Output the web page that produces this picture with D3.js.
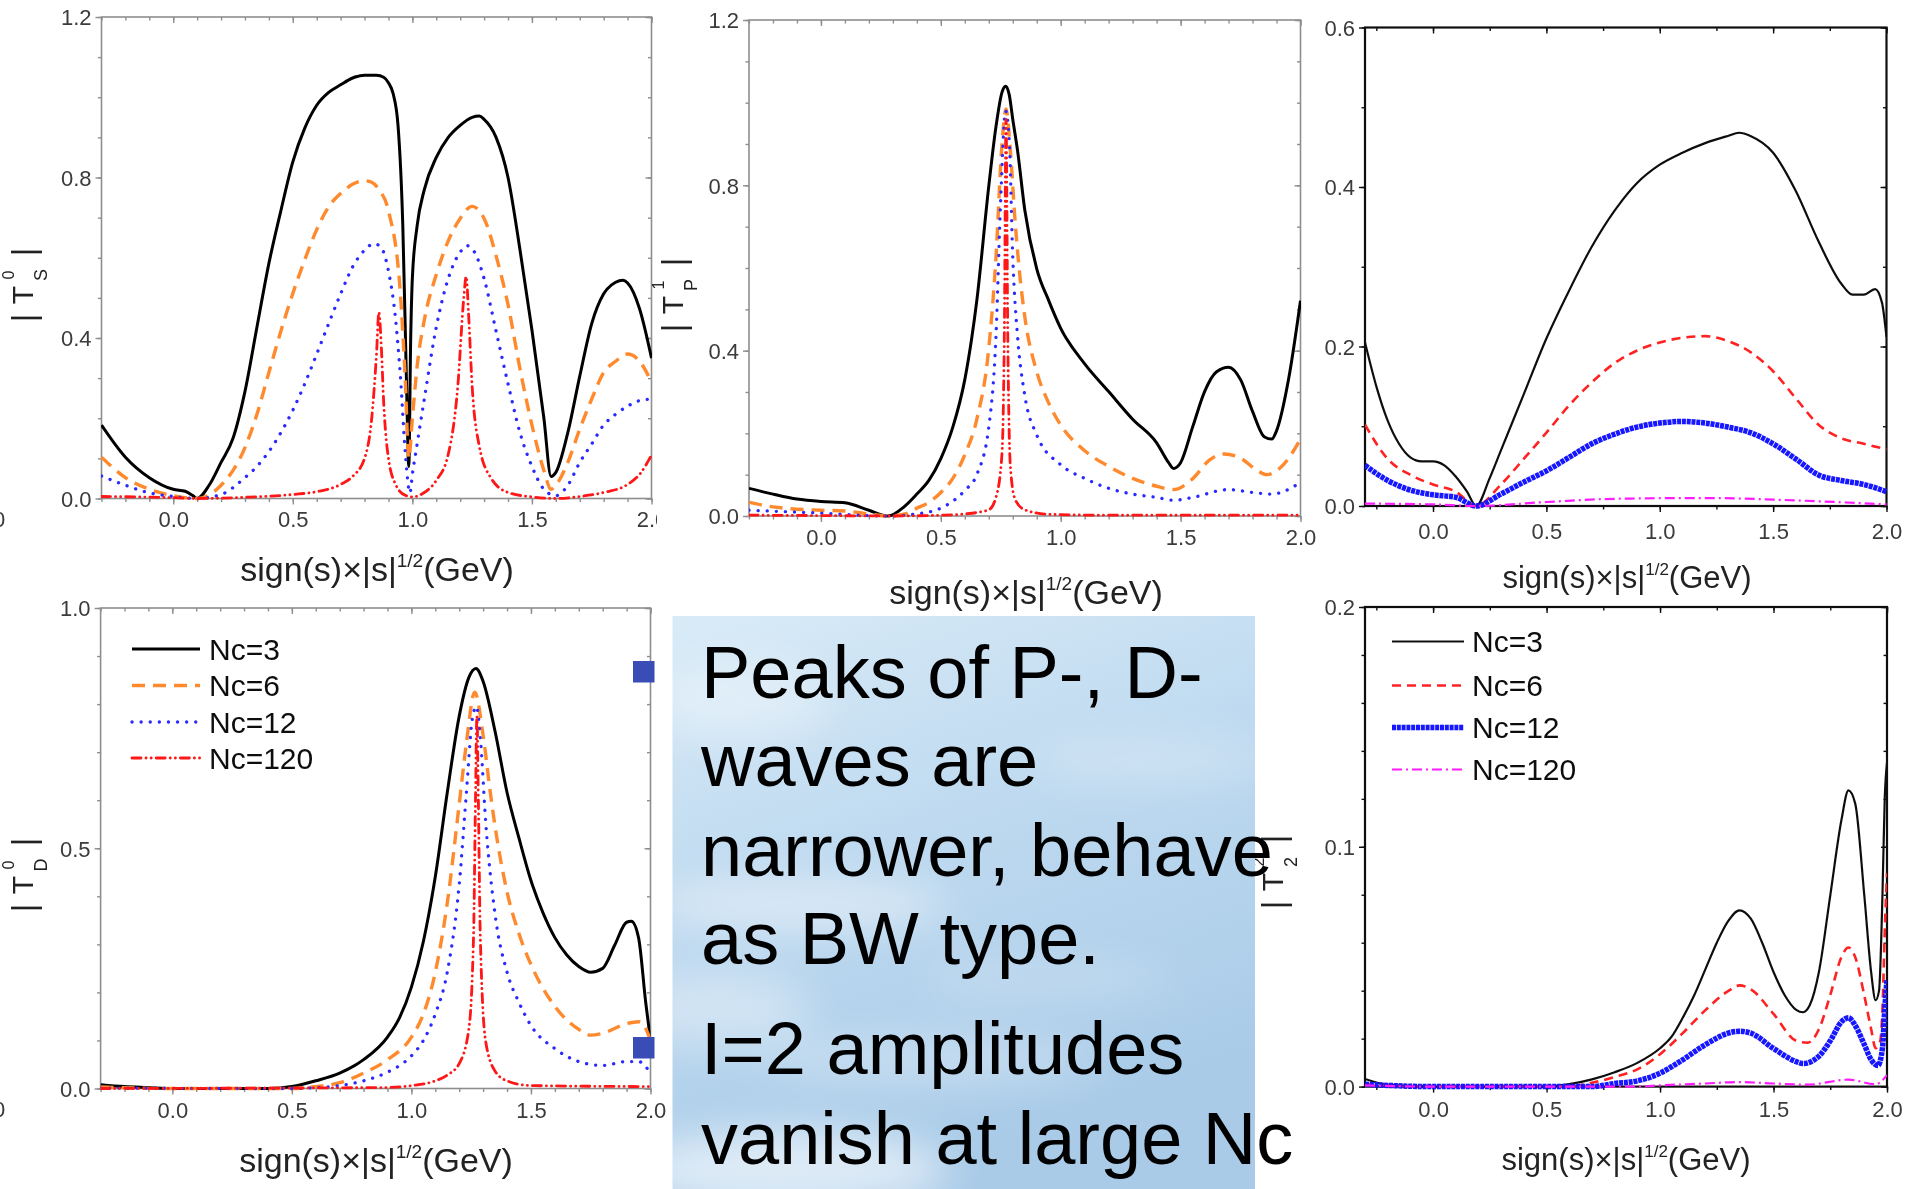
<!DOCTYPE html>
<html>
<head>
<meta charset="utf-8">
<script src="https://cdn.jsdelivr.net/npm/d3@7"></script>
<style>
  html, body { margin: 0; padding: 0; background: #fff; }
  svg { display: block; }
  text { font-family: "Liberation Sans", Arial, Helvetica, sans-serif; }
</style>
</head>
<body>
<svg id="fig" width="1907" height="1189"></svg>
<script>
// ---------- shared axis content ----------
const xDomain = [-0.3, 2.0];
const xTickValues = [0, 0.5, 1.0, 1.5, 2.0];
const xTickLabels = ["0.0", "0.5", "1.0", "1.5", "2.0"];
const ncLabels = ["Nc=3", "Nc=6", "Nc=12", "Nc=120"];
const xLabelMain = "sign(s)×|s|";
const xLabelSup = "1/2";
const xLabelTail = "(GeV)";

// ---------- |T^0_S| ----------
const s0Ticks = [0, 0.4, 0.8, 1.2];
const s0_nc3 = [[-0.3,0.183],[-0.2,0.103],[-0.1,0.052],[0.0,0.023],[0.05,0.018],[0.08,0.008],[0.1,0.0],[0.15,0.033],[0.2,0.09],[0.25,0.15],[0.3,0.267],[0.35,0.427],[0.4,0.586],[0.45,0.717],[0.5,0.839],[0.55,0.923],[0.6,0.98],[0.65,1.012],[0.7,1.031],[0.75,1.048],[0.8,1.055],[0.85,1.055],[0.88,1.05],[0.9,1.036],[0.92,1.008],[0.94,0.93],[0.96,0.68],[0.975,0.3],[0.985,0.08],[0.993,0.4],[1.0,0.55],[1.02,0.68],[1.05,0.77],[1.1,0.85],[1.15,0.9],[1.2,0.93],[1.25,0.95],[1.28,0.953],[1.3,0.945],[1.35,0.9],[1.4,0.8],[1.45,0.62],[1.5,0.42],[1.55,0.2],[1.58,0.055],[1.6,0.065],[1.65,0.164],[1.7,0.305],[1.75,0.436],[1.8,0.51],[1.85,0.539],[1.88,0.544],[1.9,0.537],[1.95,0.473],[2.0,0.35]];
const s0_nc6 = [[-0.3,0.103],[-0.2,0.052],[-0.1,0.023],[0.0,0.007],[0.1,0.0],[0.2,0.033],[0.25,0.07],[0.3,0.127],[0.35,0.21],[0.4,0.314],[0.45,0.417],[0.5,0.511],[0.55,0.595],[0.6,0.67],[0.65,0.727],[0.7,0.76],[0.75,0.783],[0.8,0.792],[0.83,0.788],[0.86,0.77],[0.9,0.717],[0.95,0.51],[0.97,0.3],[0.985,0.1],[1.0,0.2],[1.02,0.33],[1.05,0.445],[1.1,0.558],[1.15,0.642],[1.2,0.698],[1.25,0.728],[1.3,0.698],[1.35,0.605],[1.4,0.483],[1.45,0.323],[1.5,0.183],[1.55,0.07],[1.58,0.023],[1.6,0.033],[1.65,0.09],[1.7,0.173],[1.75,0.248],[1.8,0.314],[1.85,0.342],[1.9,0.36],[1.95,0.342],[2.0,0.29]];
const s0_nc12 = [[-0.3,0.056],[-0.2,0.033],[-0.1,0.014],[0.0,0.005],[0.1,0.0],[0.2,0.01],[0.3,0.052],[0.35,0.08],[0.4,0.117],[0.45,0.164],[0.5,0.22],[0.55,0.286],[0.6,0.36],[0.65,0.436],[0.7,0.51],[0.75,0.577],[0.8,0.619],[0.84,0.635],[0.87,0.625],[0.9,0.567],[0.93,0.445],[0.95,0.305],[0.97,0.117],[0.99,0.014],[1.0,0.06],[1.02,0.136],[1.05,0.248],[1.1,0.427],[1.15,0.548],[1.2,0.614],[1.23,0.63],[1.26,0.614],[1.3,0.548],[1.35,0.417],[1.4,0.286],[1.45,0.164],[1.5,0.08],[1.55,0.023],[1.6,0.007],[1.65,0.033],[1.7,0.09],[1.75,0.136],[1.8,0.183],[1.85,0.21],[1.9,0.23],[1.95,0.244],[2.0,0.248]];
const s0_nc120 = [[-0.3,0.005],[0.0,0.002],[0.1,0.0],[0.3,0.003],[0.5,0.01],[0.6,0.017],[0.7,0.035],[0.75,0.055],[0.8,0.1],[0.83,0.2],[0.85,0.36],[0.86,0.464],[0.87,0.38],[0.88,0.24],[0.9,0.1],[0.93,0.035],[0.97,0.008],[1.0,0.004],[1.05,0.015],[1.1,0.045],[1.15,0.11],[1.19,0.28],[1.215,0.5],[1.225,0.553],[1.235,0.46],[1.25,0.28],[1.28,0.13],[1.33,0.05],[1.4,0.015],[1.5,0.004],[1.6,0.0],[1.7,0.005],[1.8,0.015],[1.9,0.035],[1.95,0.06],[2.0,0.108]];

// ---------- |T^1_P| ----------
const p1Ticks = [0, 0.4, 0.8, 1.2];
const p1_nc3 = [[-0.3,0.067],[-0.2,0.053],[-0.1,0.041],[0.0,0.035],[0.1,0.032],[0.2,0.014],[0.28,0.0],[0.35,0.024],[0.4,0.053],[0.45,0.086],[0.5,0.139],[0.55,0.215],[0.6,0.33],[0.65,0.521],[0.7,0.798],[0.73,0.942],[0.755,1.025],[0.77,1.04],[0.785,1.02],[0.8,0.96],[0.82,0.884],[0.85,0.741],[0.9,0.598],[0.95,0.521],[1.0,0.454],[1.1,0.368],[1.2,0.301],[1.3,0.234],[1.4,0.177],[1.45,0.129],[1.47,0.115],[1.5,0.129],[1.55,0.215],[1.6,0.301],[1.65,0.349],[1.7,0.36],[1.75,0.33],[1.8,0.253],[1.85,0.191],[1.88,0.186],[1.9,0.206],[1.95,0.33],[2.0,0.521]];
const p1_nc6 = [[-0.3,0.033],[-0.2,0.022],[0.0,0.014],[0.1,0.012],[0.2,0.005],[0.28,0.0],[0.35,0.005],[0.4,0.019],[0.45,0.033],[0.5,0.057],[0.55,0.091],[0.6,0.148],[0.65,0.234],[0.7,0.406],[0.73,0.626],[0.755,0.9],[0.772,0.985],[0.79,0.884],[0.81,0.712],[0.83,0.579],[0.85,0.483],[0.9,0.349],[0.95,0.273],[1.0,0.22],[1.1,0.158],[1.2,0.12],[1.3,0.091],[1.4,0.072],[1.47,0.064],[1.55,0.09],[1.62,0.135],[1.68,0.15],[1.75,0.14],[1.82,0.11],[1.86,0.1],[1.93,0.125],[2.0,0.186]];
const p1_nc12 = [[-0.3,0.014],[0.0,0.007],[0.28,0.0],[0.4,0.005],[0.5,0.019],[0.6,0.062],[0.65,0.1],[0.7,0.215],[0.73,0.435],[0.75,0.77],[0.77,0.98],[0.785,0.913],[0.8,0.626],[0.82,0.435],[0.85,0.292],[0.9,0.196],[1.0,0.124],[1.1,0.091],[1.2,0.067],[1.3,0.053],[1.4,0.045],[1.47,0.038],[1.55,0.045],[1.7,0.064],[1.8,0.057],[1.88,0.053],[2.0,0.081]];
const p1_nc120 = [[-0.3,0.002],[0.0,0.001],[0.3,0.0],[0.5,0.002],[0.6,0.005],[0.7,0.015],[0.73,0.045],[0.755,0.15],[0.765,0.45],[0.772,0.96],[0.779,0.45],[0.79,0.12],[0.81,0.04],[0.85,0.015],[0.95,0.004],[1.2,0.002],[1.6,0.002],[2.0,0.002]];

// ---------- I=2 S-wave ----------
const s2Ticks = [0, 0.2, 0.4, 0.6];
const s2_nc3 = [[-0.3,0.205],[-0.25,0.15],[-0.2,0.107],[-0.15,0.078],[-0.1,0.061],[-0.05,0.056],[0.0,0.056],[0.05,0.051],[0.1,0.037],[0.15,0.018],[0.19,0.0],[0.25,0.035],[0.3,0.07],[0.4,0.14],[0.5,0.21],[0.6,0.27],[0.7,0.325],[0.8,0.37],[0.9,0.405],[1.0,0.428],[1.1,0.443],[1.2,0.455],[1.3,0.464],[1.35,0.468],[1.4,0.464],[1.5,0.443],[1.6,0.395],[1.7,0.332],[1.8,0.279],[1.85,0.265],[1.9,0.265],[1.95,0.272],[1.98,0.255],[2.0,0.212]];
const s2_nc6 = [[-0.3,0.102],[-0.2,0.059],[-0.1,0.039],[0.0,0.027],[0.1,0.018],[0.19,0.0],[0.3,0.027],[0.4,0.059],[0.5,0.092],[0.6,0.126],[0.7,0.155],[0.8,0.179],[0.9,0.195],[1.0,0.205],[1.1,0.211],[1.2,0.213],[1.3,0.207],[1.4,0.193],[1.5,0.169],[1.6,0.135],[1.7,0.102],[1.8,0.085],[1.9,0.078],[2.0,0.071]];
const s2_nc12 = [[-0.3,0.051],[-0.2,0.032],[-0.1,0.02],[0.0,0.014],[0.1,0.011],[0.19,0.0],[0.3,0.015],[0.4,0.03],[0.5,0.044],[0.6,0.061],[0.7,0.078],[0.8,0.09],[0.9,0.099],[1.0,0.104],[1.1,0.106],[1.2,0.104],[1.3,0.099],[1.4,0.092],[1.5,0.078],[1.6,0.059],[1.7,0.039],[1.8,0.032],[1.9,0.027],[2.0,0.018]];
const s2_nc120 = [[-0.3,0.003],[0.0,0.002],[0.19,0.0],[0.5,0.005],[0.8,0.009],[1.2,0.01],[1.6,0.007],[2.0,0.002]];

// ---------- |T^0_D| ----------
const d0Ticks = [0, 0.5, 1.0];
const d0_nc3 = [[-0.3,0.008],[-0.2,0.004],[-0.1,0.002],[0.0,0.0],[0.2,0.0],[0.4,0.0],[0.5,0.004],[0.6,0.016],[0.7,0.032],[0.8,0.06],[0.9,0.107],[0.95,0.147],[1.0,0.211],[1.05,0.306],[1.1,0.441],[1.15,0.616],[1.2,0.775],[1.24,0.855],[1.27,0.874],[1.3,0.847],[1.35,0.743],[1.4,0.616],[1.45,0.521],[1.5,0.433],[1.55,0.366],[1.6,0.314],[1.65,0.278],[1.7,0.254],[1.75,0.242],[1.8,0.25],[1.85,0.298],[1.9,0.346],[1.92,0.348],[1.95,0.314],[1.98,0.179],[2.0,0.1]];
const d0_nc6 = [[-0.3,0.003],[0.0,0.0],[0.5,0.0],[0.6,0.004],[0.7,0.012],[0.8,0.032],[0.9,0.06],[1.0,0.107],[1.05,0.155],[1.1,0.242],[1.15,0.386],[1.2,0.592],[1.23,0.719],[1.265,0.825],[1.3,0.735],[1.33,0.616],[1.35,0.545],[1.4,0.409],[1.45,0.322],[1.5,0.258],[1.6,0.171],[1.7,0.123],[1.75,0.111],[1.8,0.115],[1.9,0.135],[1.95,0.139],[1.98,0.125],[2.0,0.1]];
const d0_nc12 = [[-0.3,0.001],[0.5,0.0],[0.6,0.002],[0.7,0.006],[0.8,0.016],[0.9,0.034],[1.0,0.068],[1.05,0.1],[1.1,0.155],[1.15,0.242],[1.2,0.425],[1.23,0.616],[1.255,0.77],[1.272,0.795],[1.29,0.719],[1.31,0.56],[1.35,0.362],[1.4,0.242],[1.45,0.179],[1.5,0.131],[1.6,0.083],[1.7,0.056],[1.8,0.048],[1.9,0.056],[1.95,0.056],[2.0,0.032]];
const d0_nc120 = [[-0.3,0.0],[0.9,0.002],[1.0,0.006],[1.1,0.016],[1.15,0.028],[1.2,0.052],[1.24,0.123],[1.26,0.32],[1.268,0.6],[1.274,0.775],[1.28,0.6],[1.288,0.32],[1.31,0.1],[1.35,0.036],[1.4,0.016],[1.5,0.006],[2.0,0.004]];

// ---------- I=2 D-wave ----------
const d2Ticks = [0, 0.1, 0.2];
const d2_nc3 = [[-0.3,0.0032],[-0.2,0.0008],[0.0,0.0],[0.5,0.0],[0.6,0.001],[0.7,0.003],[0.8,0.006],[0.9,0.0099],[1.0,0.016],[1.05,0.0207],[1.1,0.0287],[1.15,0.038],[1.2,0.049],[1.25,0.06],[1.3,0.069],[1.35,0.0735],[1.4,0.07],[1.45,0.06],[1.5,0.0478],[1.55,0.038],[1.6,0.032],[1.63,0.031],[1.66,0.034],[1.7,0.0478],[1.75,0.0797],[1.8,0.1116],[1.83,0.1235],[1.86,0.118],[1.9,0.0797],[1.93,0.0478],[1.95,0.036],[1.965,0.04],[1.98,0.08],[1.99,0.12],[2.0,0.135]];
const d2_nc6 = [[-0.3,0.001],[0.0,0.0],[0.6,0.0],[0.7,0.0016],[0.8,0.004],[0.9,0.0072],[1.0,0.0135],[1.1,0.0223],[1.2,0.0319],[1.3,0.0398],[1.35,0.0422],[1.4,0.0406],[1.5,0.0303],[1.6,0.0191],[1.65,0.0183],[1.7,0.0239],[1.75,0.0382],[1.8,0.0542],[1.83,0.058],[1.86,0.054],[1.9,0.038],[1.93,0.024],[1.95,0.016],[1.97,0.019],[1.98,0.032],[1.99,0.064],[2.0,0.089]];
const d2_nc12 = [[-0.3,0.001],[0.0,0.0],[0.7,0.0],[0.8,0.0013],[0.9,0.0024],[1.0,0.0056],[1.1,0.0112],[1.2,0.0175],[1.3,0.0223],[1.35,0.0231],[1.4,0.0223],[1.5,0.0159],[1.6,0.0104],[1.63,0.0096],[1.7,0.0127],[1.75,0.0191],[1.8,0.0271],[1.83,0.0287],[1.86,0.0255],[1.9,0.0175],[1.93,0.0112],[1.96,0.0088],[1.98,0.016],[1.99,0.032],[2.0,0.0446]];
const d2_nc120 = [[-0.3,0.0005],[0.0,0.0],[0.9,0.0],[1.0,0.0005],[1.2,0.0013],[1.35,0.0019],[1.5,0.0013],[1.65,0.0008],[1.83,0.0029],[1.95,0.001],[2.0,0.0048]];

// ---------- slide text ----------
const bulletOne = ["Peaks of P-, D-", "waves are", "narrower, behave", "as BW type."];
const bulletTwo = ["I=2 amplitudes", "vanish at large Nc"];

// ---------- line styles ----------
const thickStyles = [
  { color: "#000000", width: 3.0, dash: null, cap: "butt" },
  { color: "#ff8a2e", width: 3.4, dash: "13,8", cap: "butt" },
  { color: "#2b2bff", width: 3.3, dash: "0.1,9", cap: "round" },
  { color: "#ff1414", width: 2.8, dash: "9,5,0.1,5,0.1,5", cap: "round" }
];
const thinStyles = [
  { color: "#111111", width: 2.2, dash: null, cap: "butt" },
  { color: "#ff2020", width: 2.6, dash: "9,6", cap: "butt" },
  { color: "#1414ff", width: 5.5, dash: "4,0.8", cap: "butt" },
  { color: "#ff1cff", width: 2.2, dash: "10,4,2,4", cap: "butt" }
];

const panels = [
  { id: "s0", x0: 101.5, x1: 651.5, y0: 17, y1: 498.5, yMax: 1.2, yTicks: s0Ticks, yMinor: 0.1,
    xMinor: 0.1, series: [s0_nc3, s0_nc6, s0_nc12, s0_nc120], styles: thickStyles,
    frame: "#8e8e8e", frameW: 1.6, tickLabelY: 28, xLab: { cx: 377, by: 581, fs: 34 },
    yLab: { bx: 33, cy: 285, sup: "0", sub: "S" } },
  { id: "p1", x0: 749, x1: 1300.5, y0: 20, y1: 516, yMax: 1.2, yTicks: p1Ticks, yMinor: 0.1,
    xMinor: 0.1, series: [p1_nc3, p1_nc6, p1_nc12, p1_nc120], styles: thickStyles,
    frame: "#8e8e8e", frameW: 1.6, tickLabelY: 29, xLab: { cx: 1026, by: 604, fs: 34 },
    yLab: { bx: 683, cy: 295, sup: "1", sub: "P" }, bg: { x: 657, y: 0, w: 648, h: 612 } },
  { id: "s2", x0: 1365, x1: 1886.5, y0: 27.5, y1: 506, yMax: 0.6, yTicks: s2Ticks, yMinor: 0.1,
    xMinor: 0.25, series: [s2_nc3, s2_nc6, s2_nc12, s2_nc120], styles: thinStyles,
    frame: "#111111", frameW: 2.2, tickLabelY: 33, xLab: { cx: 1627, by: 588, fs: 31 } },
  { id: "d0", x0: 100.6, x1: 650.5, y0: 608, y1: 1088.5, yMax: 1.0, yTicks: d0Ticks, yMinor: 0.1,
    xMinor: 0.1, series: [d0_nc3, d0_nc6, d0_nc12, d0_nc120], styles: thickStyles,
    frame: "#8e8e8e", frameW: 1.6, tickLabelY: 29, xLab: { cx: 376, by: 1172, fs: 34 },
    yLab: { bx: 33, cy: 875, sup: "0", sub: "D" },
    legend: { lx0: 132, lx1: 200, tx: 209, rows: [649, 685.5, 722, 758] } },
  { id: "d2", x0: 1365, x1: 1887, y0: 607, y1: 1086.6, yMax: 0.2, yTicks: d2Ticks, yMinor: 0.02,
    xMinor: 0.25, series: [d2_nc3, d2_nc6, d2_nc12, d2_nc120], styles: thinStyles,
    frame: "#111111", frameW: 2.2, tickLabelY: 30, xLab: { cx: 1626, by: 1170, fs: 31 },
    yLab: { bx: 1283, cy: 872, sup: "2", sub: "2" },
    legend: { lx0: 1392, lx1: 1464, tx: 1472, rows: [641.5, 685.5, 727.5, 769.5] } }
];

const svg = d3.select("#fig");
svg.append("rect").attr("width", 1907).attr("height", 1189).attr("fill", "#fff");
const defs = svg.append("defs");
defs.append("filter").attr("id", "soft").attr("filterUnits", "userSpaceOnUse")
  .attr("x", 0).attr("y", 0).attr("width", 1907).attr("height", 1189)
  .append("feGaussianBlur").attr("stdDeviation", 0.6);

const fmt = d3.format(".1f");

function styleAxis(sel, color, fs) {
  sel.select(".domain").remove();
  sel.selectAll("line").attr("stroke", color).attr("stroke-width", 1.4);
  sel.attr("font-family", "Liberation Sans, Arial, sans-serif").attr("font-size", fs);
  sel.selectAll("text").attr("fill", "#3a3a3a");
}

function drawPanel(p) {
  const g = svg.append("g").attr("filter", "url(#soft)");
  if (p.bg) g.append("rect").attr("x", p.bg.x).attr("y", p.bg.y).attr("width", p.bg.w).attr("height", p.bg.h).attr("fill", "#fff");

  const x = d3.scaleLinear().domain(xDomain).range([p.x0, p.x1]);
  const y = d3.scaleLinear().domain([0, p.yMax]).range([p.y1, p.y0]);

  const xMinorVals = d3.range(Math.ceil(-0.3 / p.xMinor - 1e-9), Math.floor(2.0 / p.xMinor + 1e-9) + 1)
    .map(k => +(k * p.xMinor).toFixed(4)).filter(v => v >= -0.3 && v <= 2.0);
  const yMinorVals = d3.range(0, Math.round(p.yMax / p.yMinor) + 1).map(k => +(k * p.yMinor).toFixed(4));

  // frame
  g.append("rect").attr("x", p.x0).attr("y", p.y0).attr("width", p.x1 - p.x0).attr("height", p.y1 - p.y0)
    .attr("fill", "none").attr("stroke", p.frame).attr("stroke-width", p.frameW);

  // bottom axis: minor + labelled major ticks (outward)
  g.append("g").attr("transform", `translate(0,${p.y1})`)
    .call(d3.axisBottom(x).tickValues(xMinorVals).tickSize(3.5).tickFormat(""))
    .call(s => styleAxis(s, p.frame, 22));
  g.append("g").attr("transform", `translate(0,${p.y1})`)
    .call(d3.axisBottom(x).tickValues(xTickValues).tickSize(6).tickFormat((d, i) => xTickLabels[i]))
    .call(s => { styleAxis(s, p.frame, 22); s.selectAll("text").attr("y", p.tickLabelY).attr("dy", null); });
  // top axis: inward ticks
  g.append("g").attr("transform", `translate(0,${p.y0})`)
    .call(d3.axisTop(x).tickValues(xMinorVals).tickSize(-3.5).tickFormat(""))
    .call(s => styleAxis(s, p.frame, 22));
  g.append("g").attr("transform", `translate(0,${p.y0})`)
    .call(d3.axisTop(x).tickValues(xTickValues).tickSize(-6).tickFormat(""))
    .call(s => styleAxis(s, p.frame, 22));
  // left axis
  g.append("g").attr("transform", `translate(${p.x0},0)`)
    .call(d3.axisLeft(y).tickValues(yMinorVals).tickSize(3.5).tickFormat(""))
    .call(s => styleAxis(s, p.frame, 22));
  g.append("g").attr("transform", `translate(${p.x0},0)`)
    .call(d3.axisLeft(y).tickValues(p.yTicks).tickSize(6).tickPadding(4).tickFormat(fmt))
    .call(s => { styleAxis(s, p.frame, 22); s.selectAll("text").attr("dy", "0.36em"); });
  // right axis: inward ticks
  g.append("g").attr("transform", `translate(${p.x1},0)`)
    .call(d3.axisRight(y).tickValues(yMinorVals).tickSize(-3.5).tickFormat(""))
    .call(s => styleAxis(s, p.frame, 22));
  g.append("g").attr("transform", `translate(${p.x1},0)`)
    .call(d3.axisRight(y).tickValues(p.yTicks).tickSize(-6).tickFormat(""))
    .call(s => styleAxis(s, p.frame, 22));

  // curves
  const cid = "clip-" + p.id;
  defs.append("clipPath").attr("id", cid).append("rect")
    .attr("x", p.x0).attr("y", p.y0).attr("width", p.x1 - p.x0).attr("height", p.y1 - p.y0 + 3);
  const line = d3.line().x(d => x(d[0])).y(d => y(d[1])).curve(d3.curveMonotoneX);
  const cg = g.append("g").attr("clip-path", `url(#${cid})`);
  p.series.forEach((s, i) => {
    const st = p.styles[i];
    cg.append("path").datum(s).attr("d", line)
      .attr("fill", "none").attr("stroke", st.color).attr("stroke-width", st.width)
      .attr("stroke-dasharray", st.dash).attr("stroke-linecap", st.cap).attr("stroke-linejoin", "round");
  });

  // x-axis title
  const xt = g.append("text").attr("x", p.xLab.cx).attr("y", p.xLab.by).attr("text-anchor", "middle")
    .attr("font-size", p.xLab.fs).attr("fill", "#222");
  const supFs = Math.round(p.xLab.fs * 0.55);
  xt.append("tspan").text(xLabelMain);
  xt.append("tspan").attr("font-size", supFs).attr("dy", -p.xLab.fs * 0.42).text(xLabelSup);
  xt.append("tspan").attr("dy", p.xLab.fs * 0.42).text(xLabelTail);

  // y-axis title, rotated: |T^sup_sub|
  if (p.yLab) {
    const lg = g.append("g").attr("transform", `translate(${p.yLab.bx},${p.yLab.cy}) rotate(-90)`)
      .attr("fill", "#222").attr("text-anchor", "middle");
    lg.append("text").attr("x", -33).attr("y", 2).attr("font-size", 33).text("|");
    lg.append("text").attr("x", -10).attr("y", 0).attr("font-size", 30).text("T");
    lg.append("text").attr("x", 10).attr("y", -19).attr("font-size", 16).text(p.yLab.sup);
    lg.append("text").attr("x", 10).attr("y", 14).attr("font-size", 18).text(p.yLab.sub);
    lg.append("text").attr("x", 33).attr("y", 2).attr("font-size", 33).text("|");
  }

  // legend
  if (p.legend) {
    const L = p.legend;
    p.styles.forEach((st, i) => {
      const ry = L.rows[i];
      g.append("line").attr("x1", L.lx0).attr("x2", L.lx1).attr("y1", ry).attr("y2", ry)
        .attr("stroke", st.color).attr("stroke-width", st.width)
        .attr("stroke-dasharray", st.dash).attr("stroke-linecap", st.cap);
      g.append("text").attr("x", L.tx).attr("y", ry).attr("dy", "0.36em")
        .attr("font-size", 30).attr("fill", "#111").text(ncLabels[i]);
    });
  }
  return g;
}

// cut-off tick labels peeking in at the left edge
[527, 1117].forEach(by => {
  svg.append("text").attr("x", -10).attr("y", by).attr("text-anchor", "middle")
    .attr("font-size", 22).attr("fill", "#3a3a3a").attr("filter", "url(#soft)").text("2.0");
});

panels.forEach(drawPanel);

// ---------- sky-tinted text box ----------
const box = { x: 672.5, y: 616, w: 582.5, h: 573 };
const sky = defs.append("linearGradient").attr("id", "sky").attr("x1", 0).attr("y1", 0).attr("x2", 0.35).attr("y2", 1);
sky.append("stop").attr("offset", 0).attr("stop-color", "#d9ebf7");
sky.append("stop").attr("offset", 0.45).attr("stop-color", "#bfdaf0");
sky.append("stop").attr("offset", 1).attr("stop-color", "#a9cbe8");
defs.append("filter").attr("id", "cloud").attr("filterUnits", "userSpaceOnUse")
  .attr("x", 560).attr("y", 520).attr("width", 820).attr("height", 760)
  .append("feGaussianBlur").attr("stdDeviation", 20);
defs.append("clipPath").attr("id", "boxclip").append("rect")
  .attr("x", box.x).attr("y", box.y).attr("width", box.w).attr("height", box.h);

svg.append("rect").attr("x", box.x).attr("y", box.y).attr("width", box.w).attr("height", box.h).attr("fill", "url(#sky)");
const clouds = svg.append("g").attr("clip-path", "url(#boxclip)").append("g").attr("filter", "url(#cloud)").attr("fill", "#ffffff");
[[740, 700, 90, 40, 0.35], [800, 905, 150, 26, 0.45], [720, 1010, 90, 40, 0.35], [930, 1060, 170, 22, 0.3],
 [790, 1170, 160, 40, 0.6], [1150, 760, 120, 24, 0.25], [1050, 980, 130, 20, 0.2]].forEach(c => {
  clouds.append("ellipse").attr("cx", c[0]).attr("cy", c[1]).attr("rx", c[2]).attr("ry", c[3]).attr("opacity", c[4]);
});

// bullets and text
const bulletColor = "#3a4db6";
const lineX = 701;
const firstBaselines = [697.7, 786, 876, 964];
const secondBaselines = [1074, 1163.5];
svg.append("rect").attr("x", 633).attr("y", 661).attr("width", 21.5).attr("height", 21.5).attr("fill", bulletColor);
svg.append("rect").attr("x", 633).attr("y", 1037).attr("width", 21.5).attr("height", 21.5).attr("fill", bulletColor);
bulletOne.forEach((t, i) => {
  svg.append("text").attr("x", lineX).attr("y", firstBaselines[i]).attr("font-size", 74).attr("fill", "#000").text(t);
});
bulletTwo.forEach((t, i) => {
  svg.append("text").attr("x", lineX).attr("y", secondBaselines[i]).attr("font-size", 74).attr("fill", "#000").text(t);
});
</script>
</body>
</html>
